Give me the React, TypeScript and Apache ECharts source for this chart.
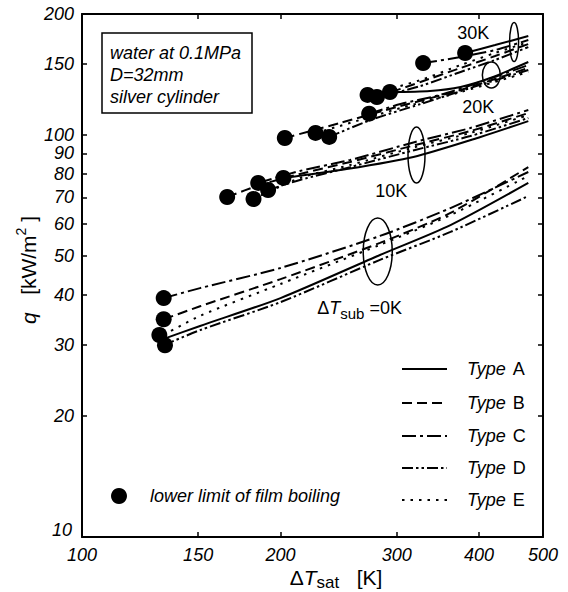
import React, { useEffect, useRef } from "react";
import * as echarts from "echarts";

const FONT = "'Liberation Sans', Arial, Helvetica, sans-serif";

const xTickLabels = [100, 150, 200, 300, 400, 500];
const xTickMarks = [150, 200, 300, 400];
const yTickLabels = [10, 20, 30, 40, 50, 60, 70, 80, 90, 100, 150, 200];
const yTickMarks = [20, 30, 40, 50, 60, 70, 80, 90, 100, 150];

// ΔTsub = 0 K
const x0K = [133, 151, 200, 283, 362, 475];
const qA0 = [31.1, 33.5, 39.3, 50.3, 59.7, 76.0];
const qB0 = [34.8, 37.5, 43.8, 53.9, 64.0, 83.2];
const qC0 = [39.3, 41.6, 46.7, 56.1, 65.8, 80.9];
const qD0 = [30.0, 32.7, 38.4, 48.9, 57.4, 70.5];
const qE0 = [31.8, 35.5, 42.6, 53.3, 63.2, 79.1];

// ΔTsub = 10 K
const xA10 = [202, 252, 318, 402, 475];
const qA10 = [78.2, 82.3, 88.2, 98.9, 108.3];
const xB10 = [166, 186, 214, 255, 320, 388, 475];
const qB10 = [70.1, 75.1, 80.0, 85.7, 94.4, 102.3, 113.4];
const xC10 = [185, 214, 255, 320, 388, 475];
const qC10 = [76.0, 81.4, 86.7, 96.1, 104.1, 115.4];
const xD10 = [191.5, 214, 255, 320, 388, 475];
const qD10 = [73.0, 77.3, 83.2, 91.8, 99.4, 110.2];
const xE10 = [182, 214, 255, 320, 388, 475];
const qE10 = [69.3, 78.2, 84.2, 93.3, 101.2, 112.1];

// ΔTsub = 20 K
const xA20 = [293, 337, 375, 416, 475];
const qA20 = [127.9, 128.7, 131.7, 138.6, 151.9];
const xB20 = [203, 246, 304, 375, 475];
const qB20 = [98.3, 107.1, 118.1, 129.4, 146.8];
const xC20 = [272.5, 304, 349, 402, 475];
const qC20 = [113.0, 119.4, 125.8, 135.5, 149.3];
const xD20 = [237, 274, 326, 388, 475];
const qD20 = [98.9, 109.0, 119.4, 130.9, 145.1];
const xE20 = [226, 246, 304, 375, 475];
const qE20 = [101.2, 105.3, 116.7, 127.9, 143.5];

// ΔTsub = 30 K
const xA30 = [381, 423, 475];
const qA30 = [160.0, 167.4, 176.3];
const xB30 = [280, 326, 375, 423, 475];
const qB30 = [124.3, 135.5, 146.8, 157.2, 168.4];
const xC30 = [329, 375, 423, 475];
const qC30 = [151.0, 156.3, 162.7, 172.3];
const xD30 = [286, 326, 375, 423, 475];
const qD30 = [125.0, 132.4, 143.5, 153.7, 165.5];
const xE30 = [271, 326, 375, 423, 475];
const qE30 = [125.8, 137.0, 149.3, 160.0, 170.3];

// lower limit of film boiling
const limitX = [133, 133, 131, 133.6, 166, 182, 185, 191.5, 202, 203, 226, 237, 272.5, 271, 280, 293, 329, 381];
const limitQ = [39.3, 34.8, 31.8, 30.0, 70.1, 69.3, 76.0, 73.0, 78.2, 98.3, 101.2, 98.9, 113.0, 125.8, 124.3, 127.9, 151.0, 160.0];

// group annotations (data coordinates)
const ellipseCenters = [[280.8, 51.3], [321.5, 89.2], [417.5, 141.0], [452, 170.3]];
const groupLabels = ["30K", "20K", "10K"];
const groupLabelPos = [[392, 179.4], [399, 117.4], [294.4, 72.6]];
const subLabelPos = [227.3, 37.1];

const typeNames = ["A", "B", "C", "D", "E"];
const dashes: any = {
  A: "solid",
  B: [10, 5],
  C: [14, 4, 3, 4],
  D: [11, 3, 2.5, 3, 2.5, 3],
  E: [2.5, 6],
};

const zip = (xs: number[], ys: number[]) => xs.map((x, i) => [x, ys[i]]);

const curves: [string, number[], number[]][] = [
  ["A", x0K, qA0], ["B", x0K, qB0], ["C", x0K, qC0], ["D", x0K, qD0], ["E", x0K, qE0],
  ["A", xA10, qA10], ["B", xB10, qB10], ["C", xC10, qC10], ["D", xD10, qD10], ["E", xE10, qE10],
  ["A", xA20, qA20], ["B", xB20, qB20], ["C", xC20, qC20], ["D", xD20, qD20], ["E", xE20, qE20],
  ["A", xA30, qA30], ["B", xB30, qB30], ["C", xC30, qC30], ["D", xD30, qD30], ["E", xE30, qE30],
];

const tickLabel = {
  fontStyle: "italic" as const,
  fontSize: 18,
  fontFamily: FONT,
  color: "#000",
};

function buildOption(): any {
  const axisLine = { show: true, lineStyle: { color: "#000", width: 2 } };
  const tickStyle = { color: "#000", width: 1.5 };
  return {
    animation: false,
    backgroundColor: "#fff",
    textStyle: { fontFamily: FONT },
    grid: { left: 82, right: 25, top: 14, bottom: 55 },
    xAxis: [
      {
        type: "log", logBase: 10, min: 100, max: 500, position: "bottom",
        axisLine, splitLine: { show: false }, minorTick: { show: false },
        axisTick: { show: true, inside: true, length: 5, customValues: xTickMarks, lineStyle: tickStyle },
        axisLabel: {
          ...tickLabel, margin: 9, customValues: xTickLabels, hideOverlap: false,
          formatter: (v: number) => String(Math.round(v)),
        },
      },
      {
        type: "log", logBase: 10, min: 100, max: 500, position: "top",
        axisLine, splitLine: { show: false }, minorTick: { show: false },
        axisTick: { show: true, inside: true, length: 5, customValues: xTickMarks, lineStyle: tickStyle },
        axisLabel: { show: false },
      },
    ],
    yAxis: [
      {
        type: "log", logBase: 10, min: 10, max: 200, position: "left",
        axisLine, splitLine: { show: false }, minorTick: { show: false },
        axisTick: { show: true, inside: true, length: 5, customValues: yTickMarks, lineStyle: tickStyle },
        axisLabel: {
          ...tickLabel, margin: 8, customValues: yTickLabels, hideOverlap: false,
          formatter: (v: number) => {
            const r = Math.round(v);
            return r === 10 ? "{lo|10}" : String(r);
          },
          rich: { lo: { ...tickLabel, padding: [0, 2, 14, 0] } },
        },
      },
      {
        type: "log", logBase: 10, min: 10, max: 200, position: "right",
        axisLine, splitLine: { show: false }, minorTick: { show: false },
        axisTick: { show: true, inside: true, length: 5, customValues: yTickMarks, lineStyle: tickStyle },
        axisLabel: { show: false },
      },
    ],
    series: [
      ...curves.map(([t, xs, ys]) => ({
        type: "line",
        xAxisIndex: 0,
        yAxisIndex: 0,
        data: zip(xs, ys),
        showSymbol: false,
        symbol: "none",
        smooth: 0.25,
        z: 2,
        silent: true,
        lineStyle: { color: "#000", width: 2, type: dashes[t] },
      })),
      {
        type: "scatter",
        xAxisIndex: 0,
        yAxisIndex: 0,
        data: zip(limitX, limitQ),
        symbol: "circle",
        symbolSize: 16,
        itemStyle: { color: "#000", opacity: 1 },
        z: 3,
        silent: true,
      },
    ],
  };
}

export default function App() {
  const ref = useRef<HTMLDivElement>(null);
  useEffect(() => {
    document.body.style.margin = "0";
    const chart = echarts.init(ref.current!, null, { renderer: "svg" });
    chart.setOption(buildOption());
    const toPx = (p: number[]) => chart.convertToPixel({ seriesIndex: 0 }, p) as number[];

    const g: any[] = [];
    const radii = [[14.5, 33.5], [8.5, 28], [9, 13], [4.5, 19.5]];
    ellipseCenters.forEach((c, i) => {
      const [cx, cy] = toPx(c);
      g.push({
        type: "ellipse", z: 10, silent: true,
        shape: { cx, cy, rx: radii[i][0], ry: radii[i][1] },
        style: { fill: "none", stroke: "#000", lineWidth: 1.5 },
      });
    });
    groupLabels.forEach((s, i) => {
      const [x, y] = toPx(groupLabelPos[i]);
      g.push({
        type: "text", z: 10, silent: true, x, y,
        style: { text: s, fontSize: 18, fontFamily: FONT, fill: "#000", textAlign: "center", textVerticalAlign: "middle" },
      });
    });
    {
      const [x, y] = toPx(subLabelPos);
      g.push({
        type: "text", z: 10, silent: true, x, y,
        style: {
          text: "{n|Δ}{i|T}{s|sub}{n| =0K}",
          textAlign: "left", textVerticalAlign: "middle", fill: "#000",
          rich: {
            n: { fontSize: 18, fontFamily: FONT, lineHeight: 26, fill: "#000" },
            i: { fontSize: 18, fontFamily: FONT, fontStyle: "italic", lineHeight: 26, fill: "#000" },
            s: { fontSize: 15, fontFamily: FONT, lineHeight: 15, verticalAlign: "bottom", fill: "#000" },
          },
        },
      });
    }

    // info box
    g.push({
      type: "rect", z: 10, silent: true,
      shape: { x: 102, y: 33, width: 150, height: 80 },
      style: { fill: "#fff", stroke: "#000", lineWidth: 1.5 },
    });
    ["water at 0.1MPa", "D=32mm", "silver cylinder"].forEach((s, i) => {
      g.push({
        type: "text", z: 11, silent: true, x: 110, y: 53 + i * 22,
        style: { text: s, fontSize: 18, fontStyle: "italic", fontFamily: FONT, fill: "#000", textVerticalAlign: "middle" },
      });
    });

    // legend for curve types
    const rows = [369, 403, 436, 468, 500];
    typeNames.forEach((t, i) => {
      g.push({
        type: "line", z: 10, silent: true,
        shape: { x1: 402, y1: rows[i], x2: 447, y2: rows[i] },
        style: { stroke: "#000", lineWidth: 2, lineDash: t === "A" ? null : dashes[t] },
      });
      g.push({
        type: "text", z: 10, silent: true, x: 467, y: rows[i],
        style: {
          text: "{i|Type}{n|" + t + "}",
          textVerticalAlign: "middle", fill: "#000",
          rich: {
            i: { fontSize: 18, fontStyle: "italic", fontFamily: FONT, fill: "#000" },
            n: { fontSize: 18, fontFamily: FONT, fill: "#000", padding: [0, 0, 0, 7] },
          },
        },
      });
    });
    g.push({
      type: "circle", z: 10, silent: true,
      shape: { cx: 119, cy: 496, r: 8 },
      style: { fill: "#000" },
    });
    g.push({
      type: "text", z: 10, silent: true, x: 150, y: 496,
      style: { text: "lower limit of film boiling", fontSize: 18, fontStyle: "italic", fontFamily: FONT, fill: "#000", textVerticalAlign: "middle" },
    });

    // axis titles
    g.push({
      type: "text", z: 10, silent: true, x: 336, y: 577,
      style: {
        text: "{n|Δ}{i|T}{s|sat}{n|   [K]}",
        textAlign: "center", textVerticalAlign: "middle", fill: "#000",
        rich: {
          n: { fontSize: 21, fontFamily: FONT, lineHeight: 28, fill: "#000" },
          i: { fontSize: 21, fontFamily: FONT, fontStyle: "italic", lineHeight: 28, fill: "#000" },
          s: { fontSize: 17, fontFamily: FONT, lineHeight: 17, verticalAlign: "bottom", fill: "#000" },
        },
      },
    });
    g.push({
      type: "text", z: 10, silent: true, x: 28, y: 270, rotation: Math.PI / 2,
      style: {
        text: "{i|q}{n|   [kW/m}{p|2}{n| ]}",
        textAlign: "center", textVerticalAlign: "middle", fill: "#000",
        rich: {
          n: { fontSize: 21, fontFamily: FONT, lineHeight: 28, fill: "#000" },
          i: { fontSize: 21, fontFamily: FONT, fontStyle: "italic", lineHeight: 28, fill: "#000" },
          p: { fontSize: 14, fontFamily: FONT, lineHeight: 14, verticalAlign: "top", fill: "#000" },
        },
      },
    });

    chart.setOption({ graphic: g });
    return () => chart.dispose();
  }, []);
  return <div ref={ref} style={{ width: 568, height: 592 }} />;
}
